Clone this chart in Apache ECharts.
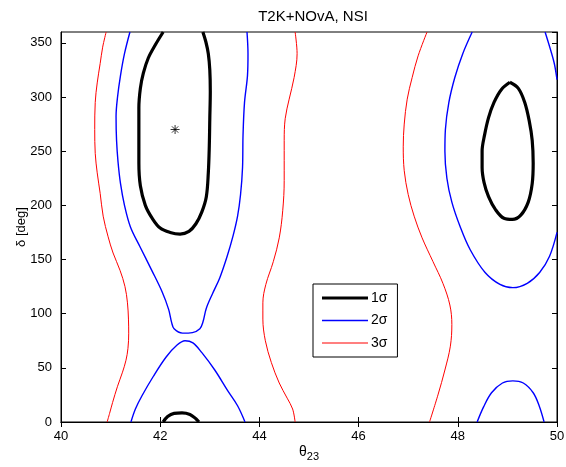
<!DOCTYPE html>
<html><head><meta charset="utf-8">
<script src="https://cdn.jsdelivr.net/npm/echarts@6/dist/echarts.min.js"></script>
<style>html,body{margin:0;padding:0;background:#fff}#c{width:566px;height:467px}</style>
</head><body><div id="c"></div>
<script>
// ---- data (theta23 [deg], delta [deg]) ----
const xTickValues = [40, 42, 44, 46, 48, 50];
const yTickValues = [0, 50, 100, 150, 200, 250, 300, 350];
const bestFit = [[42.30, 270]];

const sigma1LeftUpper = [[42.06,360],[41.90,348],[41.76,336],[41.66,322],[41.60,308],[41.57,290],[41.57,270],[41.57,239],[41.60,218],[41.70,200],[41.84,188],[42.00,179],[42.20,175],[42.40,173.5],[42.58,176],[42.72,183],[42.84,194],[42.93,208],[42.97,230],[42.99,255],[43.00,280],[43.01,305],[43.00,325],[42.97,340],[42.92,351],[42.86,360]];
const sigma1LeftLower = [[42.06,0],[42.15,5],[42.28,8],[42.44,8.5],[42.60,7],[42.72,3],[42.78,0]];
const sigma1Right = [[49.05,313.6],[48.88,307],[48.73,295],[48.62,281],[48.54,265],[48.49,250],[48.49,235],[48.53,221],[48.62,208],[48.76,196],[48.93,188],[49.10,187],[49.27,191],[49.42,203],[49.50,220],[49.52,239],[49.50,260],[49.44,278],[49.35,295],[49.22,308],[49.05,313.6]];

const sigma2LeftUpper = [[41.39,360],[41.28,340],[41.20,320],[41.14,300],[41.11,282],[41.12,260],[41.15,240],[41.20,220],[41.28,200],[41.40,180],[41.59,162],[41.83,140],[42.04,120],[42.17,104],[42.23,92],[42.28,86],[42.45,82],[42.65,82.5],[42.80,86],[42.86,92],[42.93,105],[43.05,118],[43.20,133],[43.35,153],[43.47,172],[43.56,190],[43.62,210],[43.66,235],[43.67,265],[43.70,295],[43.76,320],[43.77,340],[43.75,360]];
const sigma2LeftLower = [[41.41,0],[41.50,12],[41.63,24],[41.86,42],[42.12,60],[42.34,71],[42.50,75],[42.66,73],[42.84,64],[43.10,48],[43.36,29],[43.56,15],[43.71,0]];
const sigma2RightUpper = [[48.29,360],[48.10,340],[47.94,318],[47.82,295],[47.75,270],[47.74,250],[47.78,225],[47.88,203],[48.05,180],[48.25,159],[48.55,138],[48.85,127],[49.11,124],[49.40,128],[49.65,138],[49.85,153],[50.00,175]];
const sigma2RightCorner = [[49.76,360],[49.88,342],[49.95,330],[50.00,316]];
const sigma2RightLower = [[48.39,0],[48.52,14],[48.68,27],[48.90,36],[49.11,38],[49.32,36],[49.52,27],[49.64,15],[49.74,0]];

const sigma3Left = [[40.91,360],[40.84,346],[40.79,331],[40.73,313],[40.69,295],[40.68,270],[40.69,248],[40.73,230],[40.79,211],[40.85,190],[40.95,171],[41.05,156],[41.19,140],[41.29,125],[41.34,110],[41.36,95],[41.365,82],[41.35,68],[41.31,57],[41.24,46],[41.14,33],[41.04,18],[40.98,8],[40.93,0]];
const sigma3Middle = [[44.72,360],[44.76,340],[44.70,318],[44.60,298],[44.52,280],[44.50,260],[44.50,223],[44.47,195],[44.40,170],[44.28,148],[44.13,127],[44.07,110],[44.07,95],[44.12,75],[44.24,55],[44.40,36],[44.56,22],[44.67,12],[44.72,0]];
const sigma3Right = [[47.38,360],[47.20,338],[47.08,318],[46.98,298],[46.92,275],[46.90,254],[46.92,232],[47.00,210],[47.12,190],[47.28,170],[47.50,148],[47.70,128],[47.84,108],[47.88,90],[47.85,70],[47.74,48],[47.60,25],[47.43,0]];

const levels = [
  {name: '1\u03c3', color: '#000000', width: 3.2, icon: 'path://M0 0H46V3.2H0Z', segs: [sigma1LeftUpper, sigma1LeftLower, sigma1Right]},
  {name: '2\u03c3', color: '#0000ff', width: 1.4, icon: 'path://M0 0H46V1.6H0Z', segs: [sigma2LeftUpper, sigma2LeftLower, sigma2RightUpper, sigma2RightCorner, sigma2RightLower]},
  {name: '3\u03c3', color: '#ff0000', width: 1, icon: 'path://M0 0H46V1.1H0Z', segs: [sigma3Left, sigma3Middle, sigma3Right]}
];

const FONT = 'Liberation Sans, Arial, Helvetica, sans-serif';
const series = [];
levels.forEach(l => {
  l.segs.forEach(seg => {
    series.push({
      type: 'line', name: l.name, data: seg, showSymbol: false, symbol: 'none',
      smooth: 0.35, xAxisIndex: 0, yAxisIndex: 0, animation: false,
      lineStyle: {color: l.color, width: l.width}, itemStyle: {color: l.color},
      emphasis: {disabled: true}
    });
  });
});
series.push({
  type: 'scatter', name: 'best fit', data: bestFit, xAxisIndex: 0, yAxisIndex: 0,
  symbol: 'path://M5 0L5 10M0 5L10 5M1.5 1.5L8.5 8.5M8.5 1.5L1.5 8.5',
  symbolSize: 9, animation: false,
  itemStyle: {color: 'rgba(0,0,0,0)', borderColor: '#000', borderWidth: 1}
});

const chart = echarts.init(document.getElementById('c'), null, {renderer: 'canvas'});
const axisCommon = {
  axisLine: {lineStyle: {color: '#000', width: 1}},
  axisTick: {inside: true, length: 5, lineStyle: {color: '#000'}},
  splitLine: {show: false}
};
chart.setOption({
  animation: false,
  backgroundColor: '#fff',
  title: {text: 'T2K+NOvA, NSI', left: 308, top: 4, textAlign: 'center',
    textStyle: {fontFamily: FONT, fontSize: 15, fontWeight: 'normal', color: '#000'}},
  grid: {left: 61, right: 9, top: 32, bottom: 45, show: true, borderColor: '#000', borderWidth: 1,
    backgroundColor: 'transparent', containLabel: false, outerBoundsMode: 'none'},
  legend: {
    data: levels.map(l => ({name: l.name, icon: l.icon})), orient: 'vertical', left: 313, top: 284,
    itemWidth: 46, itemHeight: 14, itemGap: 8.5,
    padding: [7, 10, 7, 9], borderColor: '#000', borderWidth: 1, backgroundColor: '#fff',
    selectedMode: false,
    itemStyle: {borderWidth: 0},
    textStyle: {fontFamily: FONT, fontSize: 14, color: '#000', padding: [0, 0, 0, -2]}
  },
  xAxis: [
    Object.assign({}, axisCommon, {type: 'value', min: 40, max: 50, interval: 2, position: 'bottom',
      name: '{t|\u03b8}{s|23}', nameLocation: 'middle', nameGap: 21, nameMoveOverlap: false,
      nameTextStyle: {rich: {t: {fontFamily: FONT, fontSize: 14, color: '#000'}, s: {fontFamily: FONT, fontSize: 11, color: '#000', verticalAlign: 'bottom', padding: [8, 0, 0, 0]}}},
      axisLabel: {margin: 8, color: '#000', fontFamily: FONT, fontSize: 13,
        formatter: v => xTickValues.indexOf(v) >= 0 ? String(v) : ''}}),
    Object.assign({}, axisCommon, {type: 'value', min: 40, max: 50, interval: 2, position: 'top', axisLabel: {show: false}})
  ],
  yAxis: [
    Object.assign({}, axisCommon, {type: 'value', min: 0, max: 360, interval: 50, position: 'left',
      name: '\u03b4 [deg]', nameLocation: 'middle', nameGap: 33, nameRotate: 90, nameMoveOverlap: false,
      nameTextStyle: {fontFamily: FONT, fontSize: 13, color: '#000'},
      axisLabel: {margin: 9, color: '#000', fontFamily: FONT, fontSize: 13, showMaxLabel: false,
        formatter: v => yTickValues.indexOf(v) >= 0 ? String(v) : ''}}),
    Object.assign({}, axisCommon, {type: 'value', min: 0, max: 360, interval: 50, position: 'right', axisLabel: {show: false}})
  ],
  series: series
});
</script>
</body></html>
